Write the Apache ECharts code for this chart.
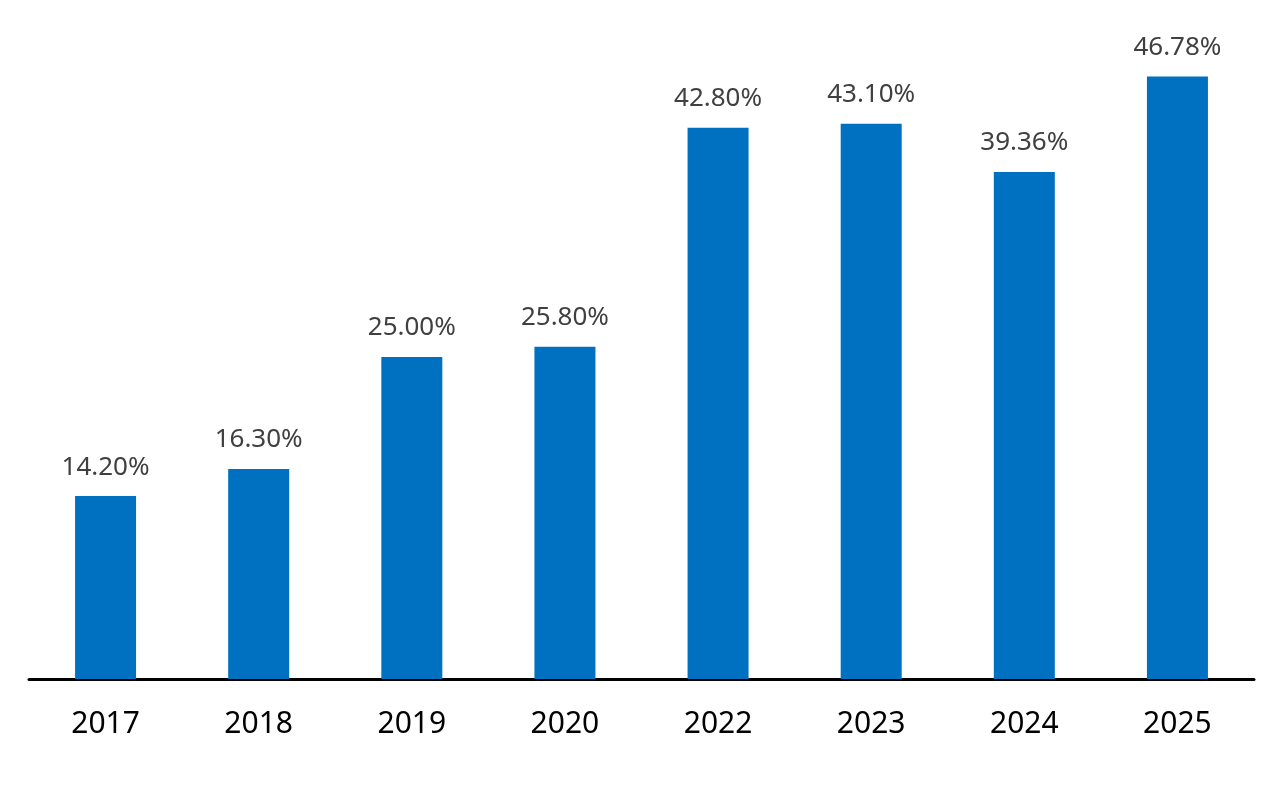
<!DOCTYPE html>
<html>
<head>
<meta charset="utf-8">
<script src="https://cdn.jsdelivr.net/npm/echarts@6/dist/echarts.min.js"></script>
<style>html,body{margin:0;padding:0;background:#fff}#c{width:1287px;height:790px}</style>
</head>
<body>
<div id="c"></div>
<script>
const categories = ['2017','2018','2019','2020','2022','2023','2024','2025'];
const values = [14.20, 16.30, 25.00, 25.80, 42.80, 43.10, 39.36, 46.78];

const chart = echarts.init(document.getElementById('c'));
chart.setOption({
  animation: false,
  grid: { left: 29, right: 33, top: 35, bottom: 111, containLabel: false },
  xAxis: {
    type: 'category',
    data: categories,
    axisLine: { show: true, lineStyle: { color: '#000', width: 3 } },
    axisTick: { show: false },
    axisLabel: { color: '#000', fontFamily: 'Noto Sans', fontSize: 30, margin: 30 }
  },
  yAxis: {
    type: 'value', min: 0, max: 50, show: false, splitLine: { show: false }
  },
  series: [{
    type: 'bar',
    data: values,
    barWidth: 61,
    itemStyle: { color: '#0070C0' },
    label: {
      show: true, position: 'top', distance: 16,
      color: '#404040', fontFamily: 'Noto Sans', fontSize: 26,
      formatter: p => p.value.toFixed(2) + '%'
    }
  }]
});
</script>
</body>
</html>
